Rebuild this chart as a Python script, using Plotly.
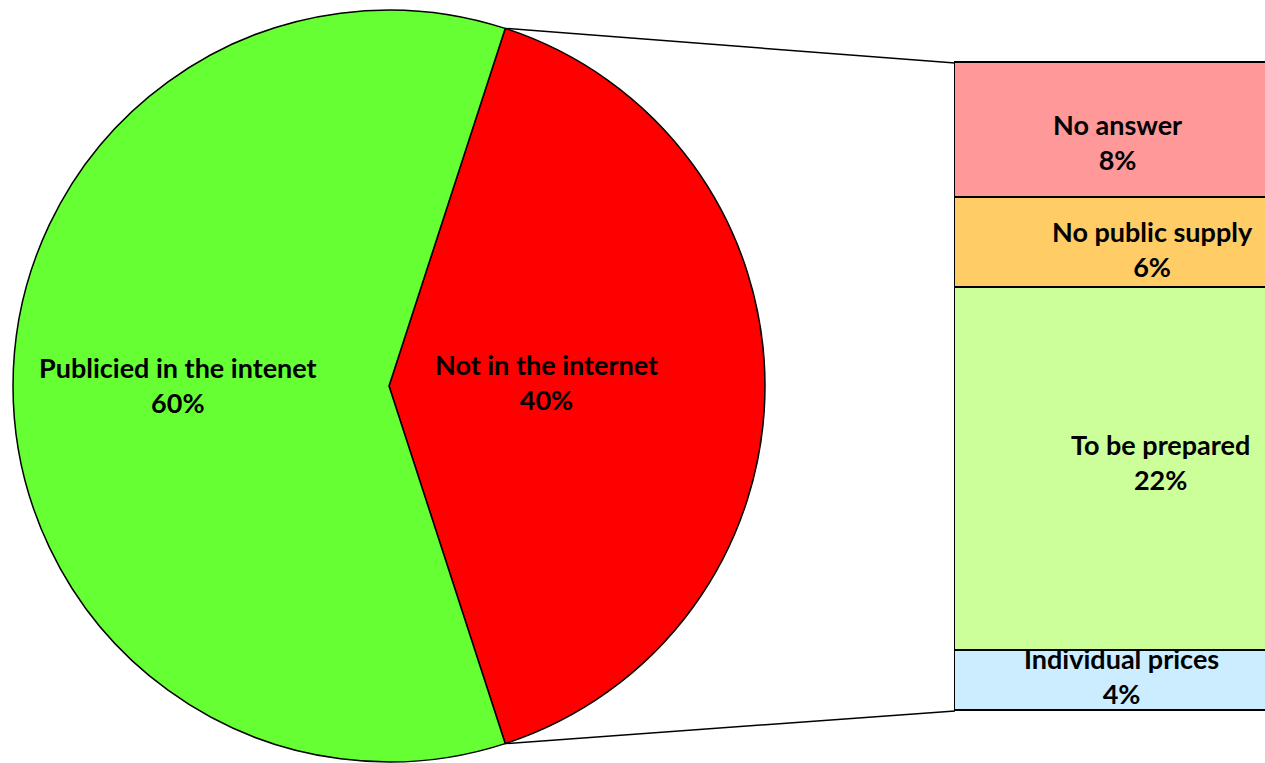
import math
import plotly.graph_objects as go

# ---------------- data ----------------
pie_labels = ["Not in the internet", "Publicied in the intenet"]
pie_values = [40, 60]
pie_colors = ["#FF0000", "#66FF33"]

bar_labels = ["No answer", "No public supply", "To be prepared", "Individual prices"]  # top -> bottom
bar_values = [8.3, 5.6, 22.4, 3.7]
bar_colors = ["#FF9999", "#FFCC66", "#CCFF99", "#CCECFF"]

# ---------------- layout constants (pixels) ----------------
W, H = 1265, 763
PIE_CX, PIE_CY, PIE_R = 389, 386, 376
BAR_LEFT, BAR_TOP, BAR_BOTTOM = 955, 63, 711
FONT = "Lato, 'Open Sans', Arial, sans-serif"
FS = 27

fig = go.Figure()

# ---- pie ----
pie_dom_x = [(PIE_CX - PIE_R) / W, (PIE_CX + PIE_R) / W]
pie_dom_y = [1 - (PIE_CY + PIE_R) / H, 1 - (PIE_CY - PIE_R) / H]
rotation = 18
fig.add_trace(go.Pie(
    labels=pie_labels, values=pie_values, sort=False, direction="clockwise",
    rotation=rotation, marker=dict(colors=pie_colors, line=dict(color="black", width=1.5)),
    textinfo="none", hoverinfo="label+percent", showlegend=False,
    domain=dict(x=pie_dom_x, y=pie_dom_y),
))

total = sum(pie_values)
# pie labels as annotations placed along slice bisectors
label_radius_frac = [0.42, 0.56]
label_dy = [-4, -1]
ang = rotation
for lab, v, f, dy in zip(pie_labels, pie_values, label_radius_frac, label_dy):
    span = v / total * 360
    mid = math.radians(ang + span / 2)
    px = PIE_CX + f * PIE_R * math.sin(mid)
    py = PIE_CY - f * PIE_R * math.cos(mid) + dy
    fig.add_annotation(x=px / W, y=1 - py / H, xref="paper", yref="paper",
                       xanchor="center", yanchor="middle",
                       text=f"<b>{lab}<br>{round(v / total * 100)}%</b>", showarrow=False,
                       font=dict(family=FONT, size=FS, color="black"), align="center")
    ang += span

# ---- stacked bar ----
bar_total = sum(bar_values)
ypad = 0.2
pxu = (BAR_BOTTOM - BAR_TOP) / bar_total
ydom = [1 - (BAR_BOTTOM + ypad * pxu) / H, 1 - (BAR_TOP - ypad * pxu) / H]
xr_right = 0.45
xpad_px = 5
xspan_px = W - BAR_LEFT  # pixels for (xr_right + 0.5)
ux = xspan_px / (xr_right + 0.5)
xr_left = -0.5 - xpad_px / ux
xdom = [(BAR_LEFT - xpad_px) / W, 1]

for lab, v, c in reversed(list(zip(bar_labels, bar_values, bar_colors))):
    fig.add_trace(go.Bar(
        x=[0], y=[v], width=[1], name=lab, marker=dict(color=c, line=dict(color="black", width=1.5)),
        showlegend=False, hoverinfo="name+y", xaxis="x", yaxis="y",
    ))

label_xshift = [7, 42, 50, 11]
label_down = [12, 6, -8, -5]
top = bar_total
for lab, v, xs, dn in zip(bar_labels, bar_values, label_xshift, label_down):
    mid = top - v / 2
    top -= v
    fig.add_annotation(x=0.5 * (-0.5 + xr_right), y=mid, xref="x", yref="y",
                       xanchor="center", yanchor="middle",
                       text=f"<b>{lab}<br>{round(v / total * 100)}%</b>", showarrow=False,
                       xshift=xs, yshift=-dn, font=dict(family=FONT, size=FS, color="black"),
                       align="center")

# ---- connector lines ----
a0 = math.radians(rotation)
a1 = math.radians(rotation + pie_values[0] / total * 360)
p0 = (PIE_CX + PIE_R * math.sin(a0), PIE_CY - PIE_R * math.cos(a0))
p1 = (PIE_CX + PIE_R * math.sin(a1), PIE_CY - PIE_R * math.cos(a1))
for (sx, sy), (ex, ey) in [(p0, (BAR_LEFT, BAR_TOP)), (p1, (BAR_LEFT, BAR_BOTTOM))]:
    fig.add_shape(type="line", xref="paper", yref="paper",
                  x0=sx / W, y0=1 - sy / H, x1=ex / W, y1=1 - ey / H,
                  line=dict(color="black", width=1.5))

fig.update_layout(
    width=W, height=H, autosize=False,
    margin=dict(l=0, r=0, t=0, b=0),
    paper_bgcolor="white", plot_bgcolor="rgba(0,0,0,0)",
    barmode="stack", bargap=0,
    xaxis=dict(domain=xdom, range=[xr_left, xr_right], visible=False, fixedrange=True),
    yaxis=dict(domain=ydom, range=[-ypad, bar_total + ypad], visible=False, fixedrange=True),
    font=dict(family=FONT),
)

fig.write_html("out.html", config={"displayModeBar": False},
               post_script="document.body.style.margin='0';document.body.style.overflow='hidden';")
